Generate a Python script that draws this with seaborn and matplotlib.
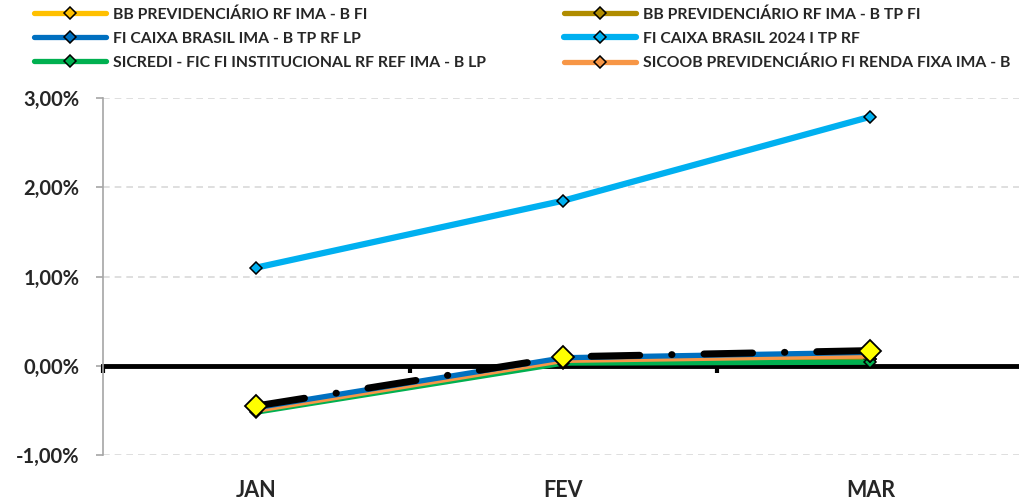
import pandas as pd
import matplotlib.pyplot as plt
import seaborn as sns

# Data (monthly returns, %)
meses = ["JAN", "FEV", "MAR"]
bb_ima_b = [-0.49, 0.05, 0.08]
bb_tp = [-0.49, 0.05, 0.08]
caixa_ima_b = [-0.47, 0.09, 0.15]
caixa_2024 = [1.10, 1.85, 2.79]
sicredi = [-0.52, 0.03, 0.04]
sicoob = [-0.50, 0.06, 0.11]
meta = [-0.45, 0.10, 0.17]

series = [
    ("BB PREVIDENCIÁRIO RF IMA - B FI", bb_ima_b, "#FFC000"),
    ("FI CAIXA BRASIL IMA - B TP RF LP", caixa_ima_b, "#0070C0"),
    ("SICREDI - FIC FI INSTITUCIONAL RF REF IMA - B LP", sicredi, "#00B050"),
    ("BB PREVIDENCIÁRIO RF IMA - B TP FI", bb_tp, "#B08C00"),
    ("FI CAIXA BRASIL 2024 I TP RF", caixa_2024, "#00B0F0"),
    ("SICOOB PREVIDENCIÁRIO FI RENDA FIXA IMA - B", sicoob, "#F79646"),
]
draw_order = [0, 3, 2, 5, 1, 4]

sns.set_style("white")
plt.rcParams['font.family'] = ['Lato', 'DejaVu Sans']
plt.rcParams['font.weight'] = 'bold'

fig = plt.figure(figsize=(10.19, 5.0), dpi=100)
ax = fig.add_axes([103 / 1019, 45 / 500, 1 - 103 / 1019, (455 - 98) / 500])

x = list(range(len(meses)))
handles = {}
for i in draw_order:
    nome, vals, cor = series[i]
    df = pd.DataFrame({"mes": x, "valor": vals})
    lw = 4.5 if i == 4 else 3.8
    sns.lineplot(data=df, x="mes", y="valor", ax=ax, color=cor, lw=lw,
                 marker="D", markersize=6, markeredgecolor="black",
                 markeredgewidth=1.1, markerfacecolor=cor, zorder=3 + draw_order.index(i))
    handles[i] = ax.lines[-1]

# benchmark (black dash-dot, yellow diamonds)
df_meta = pd.DataFrame({"mes": x, "valor": meta})
sns.lineplot(data=df_meta, x="mes", y="valor", ax=ax, color="black", lw=5.0,
             marker="D", markersize=11, markerfacecolor="#FFFF00",
             markeredgecolor="black", markeredgewidth=1.3, zorder=12)
ax.lines[-1].set_dashes([7.0, 4.6, 0.05, 4.6])
ax.lines[-1].set_dash_capstyle("round")

ax.set_ylim(-1, 3)
ax.set_xlim(-0.5, 2.484)
ax.set_yticks([-1, 0, 1, 2, 3])
ax.set_yticklabels(["-1,00%", "0,00%", "1,00%", "2,00%", "3,00%"], fontsize=14.5, fontweight="bold")
ax.yaxis.grid(True, color="#D9D9D9", linestyle=(0, (4, 3)), lw=1.2)
ax.set_xlabel("")
ax.set_ylabel("")

for s in ["top", "right"]:
    ax.spines[s].set_visible(False)
ax.spines["left"].set_color("#A6A6A6")
ax.spines["left"].set_linewidth(1.2)
ax.tick_params(axis="y", left=True, length=5, color="#A6A6A6", width=1.2, pad=12)

# zero axis with boundary ticks
ax.spines["bottom"].set_position(("data", 0))
ax.spines["bottom"].set_color("black")
ax.spines["bottom"].set_linewidth(3.5)
ax.spines["bottom"].set_zorder(2)
ax.set_xticks([-0.5, 0.5, 1.5])
ax.set_xticklabels([])
ax.tick_params(axis="x", bottom=True, length=5, width=3, color="black", direction="out")

sec = ax.secondary_xaxis(0.0)
sec.set_xticks(x)
sec.set_xticklabels(meses, fontsize=15.5, fontweight="bold")
sec.tick_params(bottom=True, length=0, pad=18)
sec.spines["bottom"].set_visible(False)

fig.legend([handles[i] for i in range(6)], [s[0] for s in series],
           loc="upper left", bbox_to_anchor=(28 / 1019, 0.998), ncol=2,
           frameon=False, handlelength=4.6, handletextpad=0.4,
           columnspacing=5.0, labelspacing=0.64, borderaxespad=0,
           prop={"weight": "bold", "size": 11.3})

plt.savefig("out.png", dpi=100)
plt.close()
